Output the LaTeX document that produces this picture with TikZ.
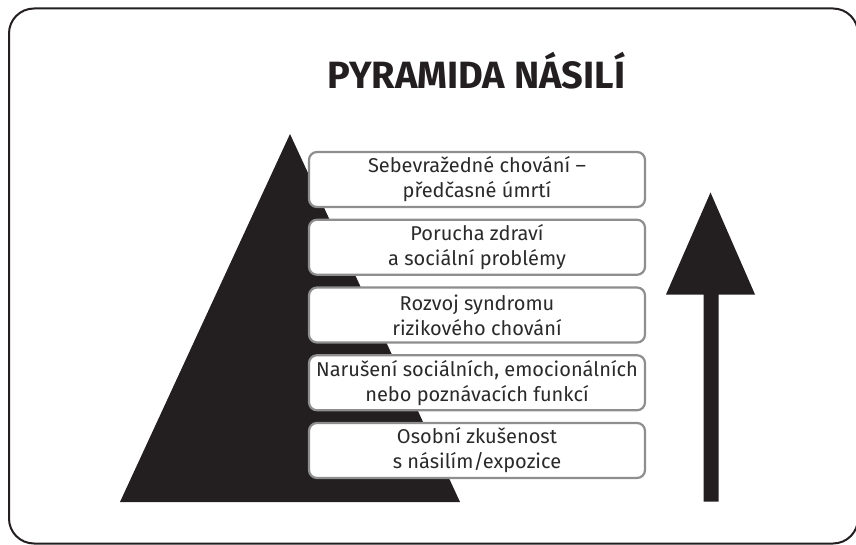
\documentclass[tikz,border=0pt]{standalone}
\usepackage{fontspec}
\setmainfont{Fira Sans}
\newfontfamily\titlefont{Fira Sans}
\newfontfamily\boxfont{Fira Sans}
\definecolor{ink}{HTML}{231F20}
\definecolor{boxline}{HTML}{8E8E8E}
\definecolor{txt}{HTML}{2A2A2A}
\tikzset{
  level/.style={draw=boxline, line width=2.2pt, rounded corners=8pt, fill=white,
    minimum width=336pt, minimum height=55pt, inner sep=0pt, align=center,
    text=txt, font=\boxfont\fontsize{20}{25}\selectfont},
  frame/.style={draw=ink, line width=2pt, rounded corners=25pt}
}
\begin{document}
\begin{tikzpicture}[x=1pt,y=-1pt]
\useasboundingbox (0,0) rectangle (856,545);
\draw[frame] (9,8.5) rectangle (858,543.5);
\node[anchor=base, text=ink, font=\titlefont\bfseries\fontsize{38}{40}\selectfont] (title) at (476.5,89) {PYRAMIDA NÁSILÍ};
\fill[ink] (290,134) -- (460,502) -- (120,502) -- cycle;
\fill[ink] (710.5,192.5) -- (755,294.5) -- (718.5,294.5) -- (718.5,501.5) -- (703.5,501.5) -- (703.5,294.5) -- (666,294.5) -- cycle;
\node[level] (l5) at (477,179.5) {Sebevražedné chování –\\předčasné úmrtí};
\node[level] (l4) at (477,247.25) {Porucha zdraví\\a sociální problémy};
\node[level] (l3) at (477,315) {Rozvoj syndromu\\rizikového chování};
\node[level] (l2) at (477,382.75) {Narušení sociálních, emocionálních\\nebo poznávacích funkcí};
\node[level] (l1) at (477,450.5) {Osobní zkušenost\\s násilím/expozice};
\end{tikzpicture}
\end{document}
